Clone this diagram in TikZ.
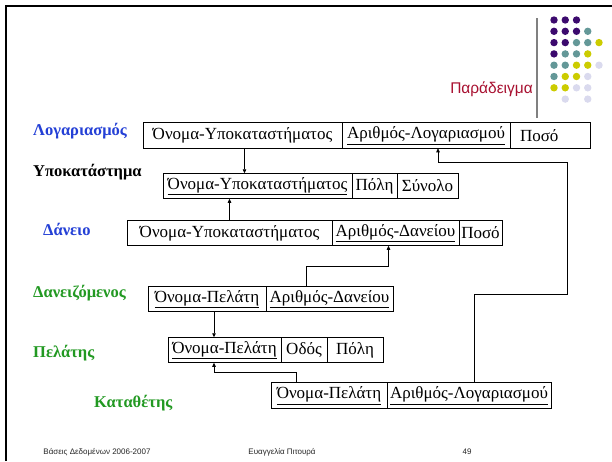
\documentclass[tikz,border=0pt]{standalone}
\usepackage{fontspec}
\setmainfont{Liberation Serif}
\newfontfamily\arialfont{Liberation Sans}
\usepackage{xcolor}
\usetikzlibrary{positioning,arrows.meta}

\definecolor{labelblue}{RGB}{36,64,214}
\definecolor{labelgreen}{RGB}{34,153,34}
\definecolor{titlered}{RGB}{168,16,48}
\definecolor{dotpurple}{RGB}{60,10,110}
\definecolor{dotteal}{RGB}{100,152,152}
\definecolor{dotyellow}{RGB}{204,204,0}
\definecolor{dotlilac}{RGB}{218,218,238}

\begin{document}
\begin{tikzpicture}[x=1pt,y=-1pt,
  cell/.style={draw, line width=0.8pt, outer sep=0pt, inner sep=0pt, minimum height=25.5pt, font=\fontsize{17}{19}\selectfont},
  relname/.style={anchor=west, inner sep=0pt, font=\bfseries\fontsize{16.5}{19}\selectfont},
  fk/.style={line width=0.7pt, -{Triangle[length=4pt,width=3.5pt]}},
  foot/.style={anchor=base, font=\arialfont\fontsize{8}{10}\selectfont, black!85}]
\fill[white] (0,0) rectangle (612,461);
\useasboundingbox (0,0) rectangle (612,461);
\draw[line width=2pt] (6,461) -- (6,6) -- (612,6);

\foreach \c/\r/\col in {1/1/dotpurple,2/1/dotpurple,3/1/dotpurple,
  1/2/dotpurple,2/2/dotpurple,3/2/dotpurple,4/2/dotteal,
  1/3/dotpurple,2/3/dotpurple,3/3/dotteal,4/3/dotteal,5/3/dotyellow,
  1/4/dotpurple,2/4/dotteal,3/4/dotteal,4/4/dotyellow,
  1/5/dotteal,2/5/dotteal,3/5/dotyellow,4/5/dotyellow,5/5/dotlilac,
  1/6/dotteal,2/6/dotyellow,3/6/dotyellow,4/6/dotlilac,
  1/7/dotyellow,2/7/dotyellow,3/7/dotlilac,4/7/dotlilac,
  2/8/dotlilac,4/8/dotlilac}
  \fill[\col] (542.75+11.25*\c, 8.7+11.3*\r) circle (3.7);
\draw[gray, line width=1.3pt] (537,18) -- (537,118);
\node (title) [anchor=base east, inner sep=0pt, text=titlered, font=\arialfont\fontsize{15.5}{18}\selectfont] at (533,93) {Παράδειγμα};

\node (lacc) [relname, text=labelblue] at (33,131) {Λογαριασμός};
\node (lbr) [relname] at (33,172) {Υποκατάστημα};
\node (lloan) [relname, text=labelblue] at (43,229) {Δάνειο};
\node (lborr) [relname, text=labelgreen] at (33,293) {Δανειζόμενος};
\node (lcust) [relname, text=labelgreen] at (33,353) {Πελάτης};
\node (ldep) [relname, text=labelgreen] at (94,403) {Καταθέτης};

\node (L1) [cell, anchor=west, minimum width=199pt] at (143,135.5) {Όνομα-Υποκαταστήματος};
\node (L2) [cell, right=0pt of L1, minimum width=168pt] {\underline{Αριθμός-Λογαριασμού}};
\node (L3) [cell, right=0pt of L2, text width=60pt, inner xsep=10pt, align=left] {Ποσό};

\node (Y1) [cell, anchor=west, minimum width=189pt] at (163,186) {\underline{Όνομα-Υποκαταστήματος}};
\node (Y2) [cell, right=0pt of Y1, minimum width=45pt] {Πόλη};
\node (Y3) [cell, right=0pt of Y2, minimum width=61pt] {Σύνολο};

\node (D1) [cell, anchor=west, minimum width=205pt] at (127,233) {Όνομα-Υποκαταστήματος};
\node (D2) [cell, right=0pt of D1, minimum width=127pt] {\underline{Αριθμός-Δανείου}};
\node (D3) [cell, right=0pt of D2, minimum width=43pt] {Ποσό};

\node (B1) [cell, anchor=west, minimum width=118pt] at (148,299) {\underline{Όνομα-Πελάτη}};
\node (B2) [cell, right=0pt of B1, minimum width=127pt] {\underline{Αριθμός-Δανείου}};

\node (P1) [cell, anchor=west, minimum width=113pt] at (168,350) {\underline{Όνομα-Πελάτη}};
\node (P2) [cell, right=0pt of P1, minimum width=46pt] {Οδός};
\node (P3) [cell, right=0pt of P2, minimum width=56pt] {Πόλη};

\node (K1) [cell, anchor=west, minimum width=116pt] at (271,395.5) {\underline{Όνομα-Πελάτη}};
\node (K2) [cell, right=0pt of K1, minimum width=164pt] {\underline{Αριθμός-Λογαριασμού}};

\draw[fk] ([xshift=2pt]L1.south) -- ([xshift=2pt]L1.south |- Y1.north);
\draw[fk] (D1.north) -- (D1.north |- Y1.south);
\draw[fk] ([xshift=-23pt]B2.north) -- ++(0,-20) -| ([xshift=-7pt]D2.south);
\draw[fk] ([xshift=7pt]B1.south) -- ([xshift=7pt]B1.south |- P1.north);
\draw[fk] ([xshift=-33pt]K1.north) -- ++(0,-10) -| ([xshift=-10.5pt]P1.south);
\draw[fk] ([xshift=5pt]K2.north) -- ++(0,-88) -- ++(93,0) -- ++(0,-132) -| ([xshift=12pt]L2.south);

\node (fleft) [foot] at (97,454) {Βάσεις Δεδομένων 2006-2007};
\node (fmid) [foot] at (282,454) {Ευαγγελία Πιτουρά};
\node (fnum) [foot] at (467,454) {49};
\end{tikzpicture}
\end{document}
